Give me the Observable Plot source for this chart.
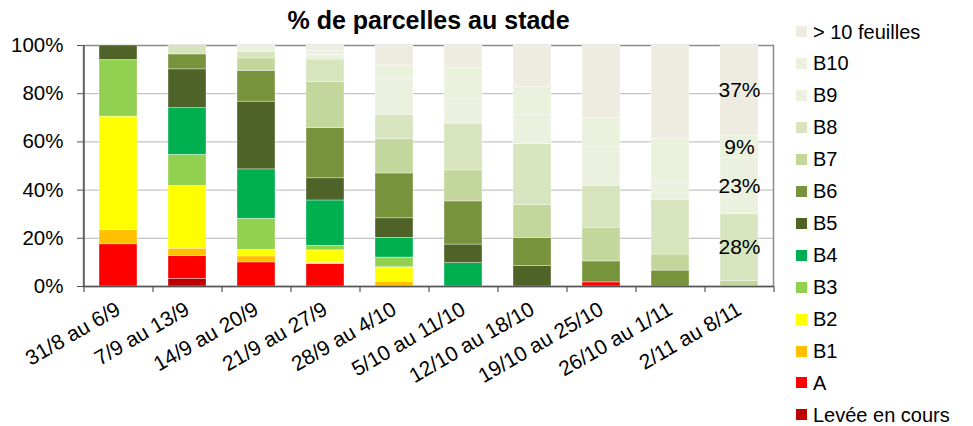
<!DOCTYPE html>
<html>
<head>
<meta charset="utf-8">
<script src="https://cdn.jsdelivr.net/npm/d3@7"></script>
<script src="https://cdn.jsdelivr.net/npm/@observablehq/plot@0.6"></script>
<style>
  html, body { margin: 0; padding: 0; background: #fff; }
  #wrap { position: relative; width: 973px; height: 426px; font-family: "Liberation Sans", Arial, sans-serif; overflow: hidden; }
  #title { position: absolute; left: 0; width: 857px; top: 6px; text-align: center; font-weight: bold; font-size: 25px; color: #000; }
  #legend { position: absolute; left: 796px; top: 0; }
  .row { position: absolute; left: 0; height: 20px; line-height: 20px; display: flex; align-items: center; white-space: nowrap; font-size: 20px; color: #000; }
  .sw { width: 11px; height: 11px; margin-right: 6px; }
  #chart { position: absolute; left: 0; top: 0; }
</style>
</head>
<body>
<div id="wrap">
  <div id="chart"></div>
  <div id="title">% de parcelles au stade</div>
  <div id="legend"></div>
</div>
<script>
const categories = ["31/8 au 6/9", "7/9 au 13/9", "14/9 au 20/9", "21/9 au 27/9", "28/9 au 4/10",
  "5/10 au 11/10", "12/10 au 18/10", "19/10 au 25/10", "26/10 au 1/11", "2/11 au 8/11"];
const stages = ["Levée en cours", "A", "B1", "B2", "B3", "B4", "B5", "B6", "B7", "B8", "B9", "B10", "> 10 feuilles"];
const stageColors = ["#C00000", "#FF0000", "#FFC000", "#FFFF00", "#92D050", "#00B050", "#4F6228", "#77933C", "#C3D69B", "#D7E4BD", "#EBF1DE", "#EAF1DD", "#EEECE1"];

const levee = [0, 3.2, 0, 0, 0, 0, 0, 0, 0, 0];
const stA   = [17.5, 9.5, 10, 9.3, 0, 0, 0, 1.7, 0, 0];
const stB1  = [6, 3, 2.5, 0.5, 2, 0, 0, 0, 0, 0];
const stB2  = [47, 26, 2.7, 5.2, 6, 0, 0, 0, 0, 0];
const stB3  = [23.5, 12.9, 12.9, 1.9, 4, 0, 0, 0, 0, 0];
const stB4  = [0, 19.4, 20.5, 18.8, 8.2, 9.7, 0, 0, 0, 0];
const stB5  = [6, 16.1, 28.1, 9.2, 8.1, 7.7, 8.5, 0, 0, 0];
const stB6  = [0, 6.2, 12.8, 20.9, 18.6, 17.9, 11.7, 8.7, 6.6, 0];
const stB7  = [0, 0, 5.2, 19, 14.2, 12.9, 13.5, 14, 6.7, 2.2];
const stB8  = [0, 3.6, 2.5, 9.4, 10.2, 19.4, 25.5, 17.4, 22.7, 27.8];
const stB9  = [0, 0, 2.8, 1.9, 14.6, 10.1, 12, 16.2, 7, 23.3];
const stB10 = [0, 0, 0, 1.7, 5.8, 12.9, 11.6, 12, 18.2, 9.3];
const stGt10 = [0, 0, 0, 2.2, 8.3, 9.4, 17.2, 30, 38.8, 37.4];

const labelledCategory = "2/11 au 8/11";
const labelledStages = ["B8", "B9", "B10", "> 10 feuilles"];

const series = [levee, stA, stB1, stB2, stB3, stB4, stB5, stB6, stB7, stB8, stB9, stB10, stGt10];
const data = [];
categories.forEach((cat, ci) => {
  stages.forEach((st, si) => {
    data.push({cat, stage: st, value: series[si][ci]});
  });
});

const half = 34.5; // half band step in px (band boundaries)

const chart = Plot.plot({
  width: 973,
  height: 426,
  marginLeft: 83,
  marginRight: 200,
  marginTop: 45,
  marginBottom: 140,
  style: {fontFamily: "'Liberation Sans', Arial, sans-serif", fontSize: "20px", color: "#000", background: "transparent"},
  x: {type: "band", domain: categories, paddingInner: 0.45, paddingOuter: 0.225, label: null},
  y: {domain: [0, 100], label: null},
  color: {domain: stages, range: stageColors},
  marks: [
    Plot.ruleY([20, 40, 60, 80], {stroke: "#c4c4c4", strokeWidth: 1.3}),
    Plot.frame({stroke: "#8a8a8a", strokeWidth: 1.5}),
    Plot.barY(data, {x: "cat", y: "value", fill: "stage", stroke: "#fff", strokeWidth: 0.6, strokeOpacity: 0.6}),
    Plot.text(data, Plot.stackY({x: "cat", y: "value",
      text: d => (d.cat === labelledCategory && labelledStages.includes(d.stage)) ? Math.round(d.value) + "%" : "",
      fontSize: 21, fill: "#000"})),
    Plot.ruleX([categories[0]], {dx: -half, y1: 0, y2: 100, stroke: "#555", strokeWidth: 1.5}),
    Plot.ruleY([0], {stroke: "#555", strokeWidth: 1.5}),
    Plot.ruleX(categories, {dx: -half, y1: 0, y2: 0, insetBottom: -6, stroke: "#555", strokeWidth: 1.2}),
    Plot.ruleX([categories[categories.length - 1]], {dx: half, y1: 0, y2: 0, insetBottom: -6, stroke: "#555", strokeWidth: 1.2}),
    Plot.axisY({ticks: [0, 20, 40, 60, 80, 100], tickFormat: d => d + "%", tickSize: 6, tickPadding: 14, fontSize: 20.5, stroke: "#555"}),
    Plot.axisX({tickSize: 0, tickRotate: -30, tickPadding: 21, fontSize: 21})
  ]
});
document.getElementById("chart").appendChild(chart);

const legend = document.getElementById("legend");
const legendOrder = stages.slice().reverse();
legendOrder.forEach((st, i) => {
  const row = document.createElement("div");
  row.className = "row";
  row.style.top = (31.5 + i * 31.95 - 10) + "px";
  const sw = document.createElement("div");
  sw.className = "sw";
  sw.style.background = stageColors[stages.indexOf(st)];
  const tx = document.createElement("span");
  tx.textContent = st;
  row.appendChild(sw);
  row.appendChild(tx);
  legend.appendChild(row);
});
</script>
</body>
</html>
